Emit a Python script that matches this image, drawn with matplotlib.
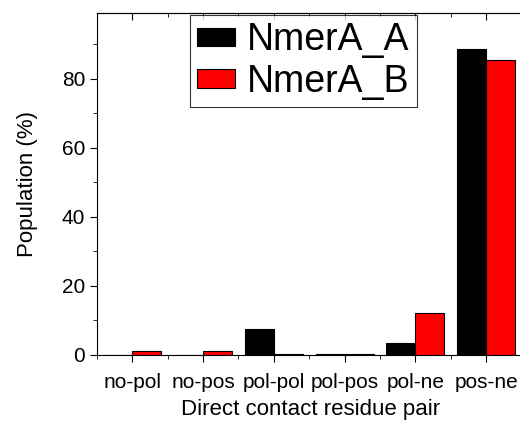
import matplotlib
matplotlib.use("Agg")
import matplotlib.pyplot as plt
import numpy as np
from matplotlib.ticker import MultipleLocator

plt.rcParams["font.family"] = ["Liberation Sans", "DejaVu Sans"]

categories = ["no-pol", "no-pos", "pol-pol", "pol-pos", "pol-ne", "pos-ne"]
nmera_a = [0.1, 0.1, 7.4, 0.4, 3.4, 88.7]
nmera_b = [1.2, 1.3, 0.3, 0.2, 12.1, 85.5]

fig = plt.figure(figsize=(5.2, 4.21), dpi=100)
ax = fig.add_axes([97 / 520, 1 - 355 / 421, 428 / 520, 342 / 421])

x = np.arange(len(categories))
w = 0.41
ax.bar(x - w / 2, nmera_a, w, color="black", edgecolor="black", linewidth=0.8, label="NmerA_A")
ax.bar(x + w / 2, nmera_b, w, color="red", edgecolor="black", linewidth=0.8, label="NmerA_B")

ax.set_xlim(-0.5, 5.55)
ax.set_ylim(0, 99)
ax.set_xticks(x)
ax.set_xticklabels(categories)
ax.xaxis.set_minor_locator(MultipleLocator(0.5))
ax.yaxis.set_major_locator(MultipleLocator(20))
ax.yaxis.set_minor_locator(MultipleLocator(10))
ax.tick_params(axis="both", which="major", direction="out", length=5, labelsize=15)
ax.tick_params(axis="both", which="minor", direction="out", length=3)
ax.tick_params(axis="x", pad=8)

# mirror ticks on top, pointing inward
top = ax.secondary_xaxis("top")
top.set_xticks(x)
top.set_xticklabels([])
top.xaxis.set_minor_locator(MultipleLocator(0.5))
top.tick_params(which="major", direction="in", length=5)
top.tick_params(which="minor", direction="in", length=3)

ax.set_xlabel("Direct contact residue pair", fontsize=16, labelpad=5)
ax.set_ylabel("Population (%)", fontsize=16, labelpad=17)

leg = ax.legend(loc="upper center", bbox_to_anchor=(0.482, 0.995), fontsize=27,
                frameon=True, fancybox=False, edgecolor="black",
                handlelength=1.0, handleheight=0.37, handletextpad=0.32,
                borderpad=0.2, labelspacing=0.15, borderaxespad=0.0)
leg.get_frame().set_linewidth(0.8)

fig.savefig("out.png", dpi=100)
